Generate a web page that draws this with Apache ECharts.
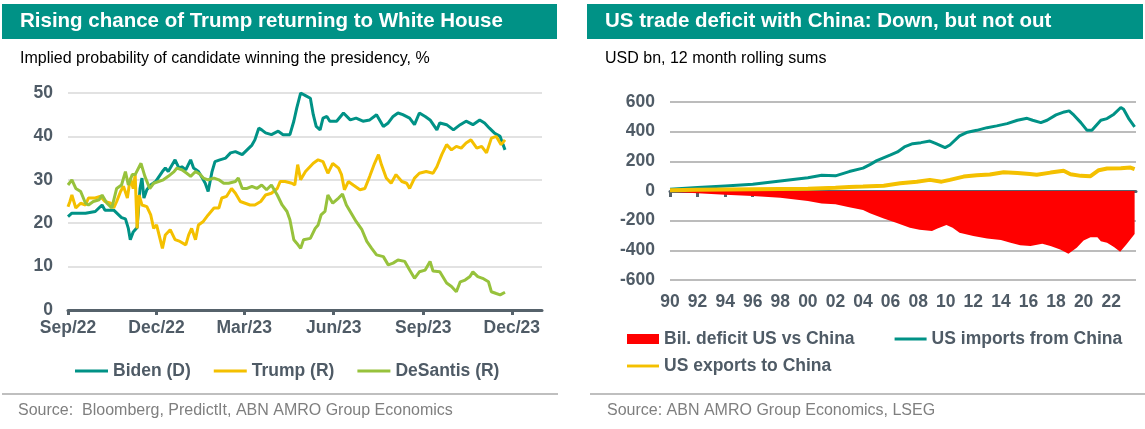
<!DOCTYPE html>
<html><head><meta charset="utf-8">
<script src="https://cdn.jsdelivr.net/npm/echarts@6/dist/echarts.min.js"></script>
<style>html,body{margin:0;padding:0;background:#fff}#c{width:1145px;height:429px}</style>
</head><body><div id="c"></div><script>
// ---------- Left chart data: implied probability (%), days since 2022-09-01 ----------
const startDate = '2022-09-01';
const endDate = '2024-01-01';
const leftTickDates = ['2022-09-01','2022-12-01','2023-03-01','2023-06-01','2023-09-01','2023-12-01'];
const leftTickLabels = ['Sep/22','Dec/22','Mar/23','Jun/23','Sep/23','Dec/23'];

const bidenDay = [0,4,18,28,35,38,47,49,55,59,62,64,67,71,74,76,78,81,85,90,97,100,103,110,114,117,121,126,129,134,138,141,144,148,151,156,162,167,172,179,184,189,192,196,199,203,209,216,221,228,232,235,239,244,249,252,255,259,262,266,269,276,283,290,296,303,310,317,324,329,334,339,344,351,356,361,367,372,379,382,389,396,403,409,416,423,428,433,438,444,447,449];
const bidenVal = [21.5,22.3,22.3,22.7,24.2,23,23,22.7,21.3,21,18.8,16.2,18,19,28,30.4,25.8,27.7,28.8,29.6,31.9,32.7,31.9,34.6,32.7,33,32.3,34.6,32.7,31.9,30.4,29.2,27.3,31.9,34.2,34.6,35,36.2,36.5,35.8,36.9,38,39.2,41.9,41.5,40.8,40.4,41.2,40.4,40.4,43.5,46.5,50,49.4,48.8,45,42.3,41.5,44.2,44.6,43.5,43.5,45.4,43.8,44.2,43.5,43.8,45,42.3,43.1,44.6,45.4,45,44.2,42.7,45.4,44.6,43.8,41.5,43.1,42.7,41.5,42.7,43.5,42.7,43.8,43.1,41.9,40.8,40,38.1,36.9];

const trumpDay = [0,2,4,8,13,18,21,28,33,38,44,47,50,54,57,61,64,67,69,71,73,76,81,85,88,91,97,100,105,110,115,121,124,127,131,134,139,144,150,155,158,163,168,172,177,182,187,192,198,203,209,215,218,223,230,233,236,239,244,252,257,262,267,272,278,281,284,288,293,300,305,310,315,319,322,327,332,337,343,348,351,356,361,368,375,379,384,389,394,399,404,409,414,420,425,430,435,440,445,449];
const trumpVal = [23.8,25,26.5,23.5,24.6,24.2,25.8,25.8,26.2,25,24.6,23.5,25,27.3,28.5,25.8,30.4,28,31.2,18.8,26.5,24.2,23.8,21.9,18.8,19.6,14.2,17.3,18.5,16.2,15.8,15,17.3,18.8,16.2,19.6,20.4,21.9,23.5,23.5,25.8,26.2,28,26.9,25,24.6,24.2,24.2,25,26.5,26.9,28,29.6,29.6,29.2,28.8,33.5,30,31.9,33.8,34.6,34.2,31.5,33.8,32.7,31.2,27.7,29.6,28.8,27.7,28,30.8,33.8,35.8,33.5,30.4,29.2,31.2,29.6,29.2,28,30.4,31.5,31.9,31.5,33,35.8,38.1,36.9,37.7,37.3,38.5,39.2,37.3,37.7,36.2,39.6,40,38.1,39.2];

const desantisDay = [0,4,8,13,18,21,26,32,35,40,45,50,55,59,62,66,69,75,79,84,88,93,98,103,109,112,117,122,126,131,136,139,144,150,155,160,165,172,175,179,184,189,194,199,204,209,215,220,225,228,232,235,239,242,249,254,257,260,264,267,272,278,282,286,291,296,302,307,312,317,324,329,334,339,346,351,356,361,367,372,375,382,389,394,399,403,408,413,416,421,426,432,435,440,444,449];
const desantisVal = [28.8,30,28,27.3,24.6,24.2,25,25.4,26.5,24.6,23.5,28,28.8,31.9,28.8,31.2,31.2,33.8,30.8,28,29.2,29.6,30,30.8,31.9,32.7,32.3,31.5,30.8,31.9,31.2,30.4,30,30.4,30,29.2,29.2,29.6,30.4,28,28,28.5,28,28.8,27.7,28.8,26.5,24.2,22.7,20.8,16.2,15.4,14.2,16.2,16.5,18.8,19.6,21.9,22.7,26.5,24.6,25.8,26.7,24.2,22.3,20.4,18.5,15.8,14.2,12.7,12.3,10.4,10.8,11.5,11.2,9.2,7.3,8.8,9.2,11.2,9,8.8,6.2,5.4,4.2,6.5,6.9,7.7,8.8,7.7,7.3,6.5,4.2,3.8,3.5,4.1];

const leftYTicks = {min: 0, max: 50, step: 10};

// ---------- Right chart data: USD bn, 12m rolling sums ----------
const importsYear = [1990,1992,1994,1996,1998,2000,2001,2002,2003,2004,2004.5,2005,2006,2006.5,2007,2007.6,2008.2,2008.85,2009.3,2009.95,2010.3,2011,2011.5,2012.25,2013,2013.7,2014.45,2015.2,2015.9,2016.3,2016.9,2017.35,2018,2018.6,2018.95,2019.3,2019.8,2020.25,2020.6,2021.25,2021.7,2022.2,2022.7,2022.9,2023.3,2023.7];
const importsVal = [11,23,34,45,68,90,106,102,131,154,178,205,243,263,297,319,326,337,319,292,310,371,394,409,427,439,454,477,490,477,461,477,513,533,540,511,461,409,409,477,488,518,563,551,484,432];

const exportsYear = [1990,1992,1994,1996,1998,2000,2002,2003,2004,2005.5,2006.7,2007.9,2008.85,2009.7,2010.3,2011.3,2012.25,2013.2,2014.2,2015.2,2016.1,2016.6,2017.6,2018.55,2019.05,2019.8,2020.5,2021.1,2021.7,2022.7,2023.4,2023.7];
const exportsVal = [5,8,10,12,14,16,22,27,30,36,52,63,75,63,75,97,106,111,127,122,115,109,124,136,113,102,100,140,152,154,158,148];

const deficitYear = [1990,1992,1994,1996,1998,2000,2001,2002,2003,2004,2004.5,2005.5,2006.4,2007.4,2008.1,2009,2009.4,2010.05,2010.5,2011,2012,2013,2014,2014.7,2015.4,2016.15,2017,2017.6,2018.3,2018.9,2019.5,2020,2020.5,2021,2021.25,2021.7,2022.2,2022.65,2023.1,2023.7];
const deficitVal = [-5,-15,-25,-34,-45,-68,-84,-90,-110,-128,-150,-185,-214,-248,-261,-270,-252,-230,-248,-281,-304,-320,-331,-349,-365,-371,-356,-371,-394,-423,-383,-333,-311,-311,-338,-349,-378,-410,-360,-290];

const tradeXTicks = [1990,1992,1994,1996,1998,2000,2002,2004,2006,2008,2010,2012,2014,2016,2018,2020,2022];
const tradeXRange = [1990, 2023.8];
const rightYTicks = {min: -600, max: 600, step: 200};

// ---------- helpers ----------
const dayOf = d => Math.round((Date.parse(d) - Date.parse(startDate)) / 86400000);
const leftTickDays = leftTickDates.map(dayOf);
const pairs = (xs, ys) => xs.map((x, i) => [x, ys[i]]);

const FONT = "'Liberation Sans', Arial, sans-serif";
const AXIS_TXT = '#4F5B66';
const TEAL = '#009286';
const YELLOW = '#F4C000';
const LGREEN = '#97C23C';
const RED = '#FF0000';
const AXIS_LINE = '#56626B';
const LINE_ICON = 'path://M0,0H33V3H0Z';

const axisLabelStyle = {color: AXIS_TXT, fontSize: 17.5, fontWeight: 'bold', fontFamily: FONT};
const legendText = {color: AXIS_TXT, fontSize: 17.5, fontWeight: 'bold', fontFamily: FONT};

const chart = echarts.init(document.getElementById('c'), null, {renderer: 'canvas'});
chart.setOption({
  animation: false,
  backgroundColor: '#ffffff',
  textStyle: {fontFamily: FONT},
  graphic: [
    {type: 'rect', shape: {x: 2, y: 4, width: 555, height: 35}, style: {fill: TEAL}, silent: true},
    {type: 'text', x: 20, y: 21.5, style: {text: 'Rising chance of Trump returning to White House', fill: '#fff', fontSize: 20.5, fontWeight: 'bold', fontFamily: FONT, verticalAlign: 'middle'}},
    {type: 'text', x: 20, y: 59, style: {text: 'Implied probability of candidate winning the presidency, %', fill: '#000', fontSize: 16, fontFamily: FONT, verticalAlign: 'middle'}},
    {type: 'rect', shape: {x: 587, y: 4, width: 556, height: 35}, style: {fill: TEAL}, silent: true},
    {type: 'text', x: 605, y: 21.5, style: {text: 'US trade deficit with China: Down, but not out', fill: '#fff', fontSize: 20.5, fontWeight: 'bold', fontFamily: FONT, verticalAlign: 'middle'}},
    {type: 'text', x: 605, y: 59, style: {text: 'USD bn, 12 month rolling sums', fill: '#000', fontSize: 16, fontFamily: FONT, verticalAlign: 'middle'}},
    {type: 'rect', shape: {x: 2, y: 393, width: 556, height: 2}, style: {fill: '#BFBFBF'}, silent: true},
    {type: 'rect', shape: {x: 590, y: 393, width: 555, height: 2}, style: {fill: '#BFBFBF'}, silent: true},
    {type: 'text', x: 18, y: 411, style: {text: 'Source:  Bloomberg, PredictIt, ABN AMRO Group Economics', fill: '#7F7F7F', fontSize: 16, fontFamily: FONT, verticalAlign: 'middle'}},
    {type: 'text', x: 607, y: 411, style: {text: 'Source: ABN AMRO Group Economics, LSEG', fill: '#7F7F7F', fontSize: 16, fontFamily: FONT, verticalAlign: 'middle'}}
  ],
  grid: [
    {left: 68, top: 93, width: 474, height: 217},
    {left: 670, top: 102, width: 466, height: 178}
  ],
  legend: [
    {data: [{name: 'Biden (D)', icon: LINE_ICON}, {name: 'Trump (R)', icon: LINE_ICON}, {name: 'DeSantis (R)', icon: LINE_ICON}],
     left: 70, top: 357, itemWidth: 33, itemHeight: 14, itemGap: 23, symbolKeepAspect: true, textStyle: legendText},
    {data: [{name: 'Bil. deficit US vs China', icon: 'rect'}, {name: 'US imports from China', icon: LINE_ICON}],
     left: 622, top: 325, itemWidth: 32, itemHeight: 10, itemGap: 40, symbolKeepAspect: true, textStyle: legendText},
    {data: [{name: 'US exports to China', icon: LINE_ICON}],
     left: 622, top: 352, itemWidth: 32, itemHeight: 10, symbolKeepAspect: true, textStyle: legendText}
  ],
  xAxis: [
    {type: 'value', gridIndex: 0, min: 0, max: dayOf(endDate),
     axisLine: {onZero: false, lineStyle: {color: AXIS_LINE, width: 3}},
     axisTick: {customValues: leftTickDays, length: 5, lineStyle: {color: AXIS_LINE, width: 3}},
     axisLabel: Object.assign({customValues: leftTickDays, margin: 9, formatter: v => leftTickLabels[leftTickDays.indexOf(Math.round(v))] || ''}, axisLabelStyle),
     splitLine: {show: false}},
    {type: 'value', gridIndex: 1, min: tradeXRange[0], max: tradeXRange[1], position: 'bottom',
     axisLine: {show: false, onZero: false}, axisTick: {show: false},
     axisLabel: Object.assign({customValues: tradeXTicks, margin: 13, formatter: v => String(Math.round(v) % 100).padStart(2, '0')}, axisLabelStyle),
     splitLine: {show: false}},
    {type: 'value', gridIndex: 1, min: tradeXRange[0], max: tradeXRange[1], position: 'top',
     axisLine: {onZero: true, lineStyle: {color: AXIS_LINE, width: 3}},
     axisTick: {inside: true, customValues: tradeXTicks, length: 6, lineStyle: {color: AXIS_LINE, width: 3}},
     axisLabel: {show: false}, splitLine: {show: false}}
  ],
  yAxis: [
    {type: 'value', gridIndex: 0, min: leftYTicks.min, max: leftYTicks.max, interval: leftYTicks.step,
     axisLine: {show: false}, axisTick: {show: false},
     axisLabel: Object.assign({margin: 15}, axisLabelStyle),
     splitLine: {lineStyle: {color: '#D9D9D9', width: 1.5}}},
    {type: 'value', gridIndex: 1, min: rightYTicks.min, max: rightYTicks.max, interval: rightYTicks.step,
     axisLine: {show: false}, axisTick: {show: false},
     axisLabel: Object.assign({margin: 15}, axisLabelStyle),
     splitLine: {lineStyle: {color: '#A6A6A6', width: 1.5}}}
  ],
  series: [
    {name: 'Biden (D)', type: 'line', xAxisIndex: 0, yAxisIndex: 0, data: pairs(bidenDay, bidenVal), symbol: 'none', color: TEAL, lineStyle: {width: 3, color: TEAL}},
    {name: 'Trump (R)', type: 'line', xAxisIndex: 0, yAxisIndex: 0, data: pairs(trumpDay, trumpVal), symbol: 'none', color: YELLOW, lineStyle: {width: 3, color: YELLOW}},
    {name: 'DeSantis (R)', type: 'line', xAxisIndex: 0, yAxisIndex: 0, data: pairs(desantisDay, desantisVal), symbol: 'none', color: LGREEN, lineStyle: {width: 3, color: LGREEN}},
    {name: 'Bil. deficit US vs China', type: 'line', xAxisIndex: 1, yAxisIndex: 1, data: pairs(deficitYear, deficitVal), symbol: 'none', color: RED,
     lineStyle: {width: 0, opacity: 0}, areaStyle: {color: RED, opacity: 1}},
    {name: 'US imports from China', type: 'line', xAxisIndex: 1, yAxisIndex: 1, data: pairs(importsYear, importsVal), symbol: 'none', color: TEAL, lineStyle: {width: 3, color: TEAL}},
    {name: 'US exports to China', type: 'line', xAxisIndex: 1, yAxisIndex: 1, data: pairs(exportsYear, exportsVal), symbol: 'none', color: YELLOW, lineStyle: {width: 4, color: YELLOW}}
  ]
});
</script></body></html>
